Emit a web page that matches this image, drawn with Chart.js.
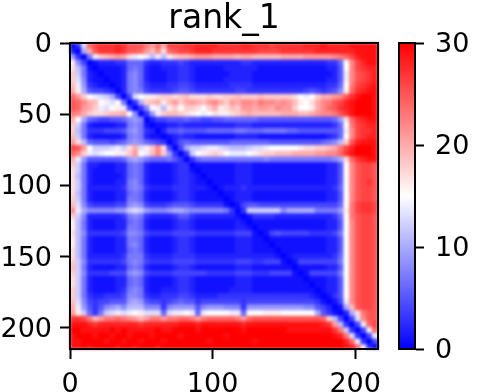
<!DOCTYPE html>
<html>
<head>
<meta charset="utf-8" />
<title>rank_1</title>
<script src="https://cdn.jsdelivr.net/npm/chart.js"></script>
<style>
  html, body { margin: 0; padding: 0; background: #fff; }
  canvas { position: absolute; top: 0; }
  #map { filter: blur(1.4px); }
</style>
</head>
<body>
<canvas id="map" width="392" height="392" style="left:0"></canvas>
<canvas id="axes" width="392" height="392" style="left:0"></canvas>
<canvas id="bar" width="92" height="392" style="left:392px"></canvas>
<script>
const titleText = "rank_1";
const cellStep = 4;
const xTicks = [0, 100, 200];
const yTicks = [0, 50, 100, 150, 200];
const barTicks = [0, 10, 20, 30];
const barRange = [0, 30];

// error values, one row per 4 residues
const rows = [
[0,3,13,24,26,27,27,27,28,27,25,25,25,23,21,24,20,26,26,26,27,27,28,28,28,28,27,27,27,27,28,28,27,27,27,26,27,27,27,27,27,28,28,28,29,28,28,28,28,29,29,29,29,29],
[2,0,10,20,25,27,27,27,28,27,25,25,24,21,19,22,17,24,25,26,26,27,28,28,28,27,27,27,27,27,27,27,27,26,26,26,26,27,27,27,27,27,27,28,28,28,28,28,28,28,29,29,29,29],
[9,3,0,7,14,18,19,20,21,20,17,14,15,14,11,14,11,16,18,19,19,20,21,21,21,20,20,20,20,19,20,20,19,19,19,19,19,20,20,20,20,21,21,21,21,21,22,23,24,26,28,29,29,29],
[16,8,4,0,1,2,2,2,3,3,6,6,6,3,2,2,3,3,3,4,3,2,2,2,2,2,2,2,2,2,3,3,2,2,2,2,2,2,2,2,2,2,2,2,2,3,3,6,15,22,26,28,29,29],
[17,11,7,1,0,1,1,1,1,2,6,7,6,2,1,1,2,2,2,3,3,2,1,1,1,1,1,2,2,2,2,2,2,1,1,1,1,1,1,1,1,1,1,1,1,2,2,5,15,22,26,27,28,28],
[18,12,7,2,1,0,1,1,1,2,7,8,6,2,1,1,1,2,2,3,3,2,1,1,1,1,1,1,2,2,2,2,1,1,1,1,1,1,1,1,1,1,1,1,1,1,2,5,14,22,25,26,27,28],
[18,13,8,2,1,1,0,1,1,2,7,8,6,2,1,1,1,2,2,3,3,2,1,1,1,1,1,2,2,2,2,2,1,1,1,1,1,1,1,1,1,1,1,1,1,2,2,5,14,22,25,26,27,28],
[19,14,9,3,2,1,1,0,1,2,7,8,6,3,2,2,2,3,3,4,4,3,2,2,2,2,2,2,3,3,3,3,2,2,2,2,2,2,2,2,2,2,2,2,2,3,3,6,15,23,26,27,28,29],
[20,16,10,5,4,4,3,2,0,2,7,8,7,4,3,3,3,3,4,5,5,4,3,3,3,3,3,3,3,4,4,3,3,3,3,3,3,3,3,3,3,4,5,4,3,4,5,8,16,24,27,28,29,29],
[24,21,18,15,14,13,12,10,4,0,4,13,15,16,16,17,18,18,17,18,19,17,17,17,18,17,17,18,18,19,18,18,18,19,18,18,18,18,18,17,15,14,15,18,20,20,21,22,25,27,29,30,30,29],
[25,24,22,20,19,15,16,13,15,7,0,3,10,18,19,20,16,19,21,18,20,21,20,19,21,22,20,18,21,20,22,22,21,23,22,22,21,22,21,19,16,15,17,20,22,23,25,26,28,29,30,30,30,29],
[25,24,21,20,18,14,13,15,16,14,4,0,3,8,15,14,11,16,18,15,18,18,17,15,18,20,16,17,19,18,21,21,20,21,21,20,22,21,21,18,15,15,16,20,22,24,25,27,28,29,30,30,30,29],
[23,22,20,18,17,17,18,19,19,20,15,8,0,3,9,16,18,19,19,18,17,16,15,14,15,17,16,16,17,18,19,20,19,19,19,19,19,20,20,20,19,19,20,21,22,22,23,25,27,29,30,30,30,29],
[20,15,10,6,5,4,4,5,5,6,8,9,8,0,2,4,4,5,5,5,6,5,5,4,4,5,5,6,6,6,6,6,6,5,5,5,5,5,5,5,5,5,5,5,5,5,6,9,17,24,27,28,29,29],
[18,12,7,2,1,1,1,1,2,2,7,8,7,1,0,1,1,2,2,3,2,2,2,2,2,2,2,2,2,3,3,3,2,2,2,2,2,2,2,2,2,2,2,2,2,2,3,6,15,23,26,27,28,28],
[18,11,7,3,3,3,4,4,4,5,8,9,7,3,2,0,2,5,5,6,5,5,5,5,6,6,6,6,6,7,7,6,6,6,7,7,7,7,6,6,5,5,5,5,5,5,5,6,14,22,26,27,27,28],
[19,12,7,2,1,1,1,1,1,2,7,8,7,2,1,1,0,1,2,3,2,2,1,1,1,1,1,1,1,2,2,2,2,1,1,1,1,1,1,1,1,1,1,1,1,2,3,6,15,22,26,27,28,28],
[21,17,11,6,5,5,5,4,5,6,8,9,8,6,5,4,3,0,2,5,6,5,5,5,5,5,5,5,6,6,6,6,6,6,6,5,5,5,5,5,5,5,5,5,6,7,8,11,18,25,28,29,29,29],
[26,25,21,15,12,12,12,13,14,12,17,20,13,16,18,22,17,4,0,4,10,12,12,13,14,14,13,12,11,11,11,12,13,13,14,15,15,15,15,15,16,17,17,18,18,19,20,23,26,28,30,30,30,29],
[24,22,18,14,13,14,15,15,16,16,18,21,15,14,19,22,18,9,3,0,3,12,15,16,17,18,17,15,14,14,14,15,16,17,18,18,19,19,19,20,20,20,20,21,21,22,22,24,27,29,30,30,30,29],
[20,14,9,5,5,5,5,5,5,6,9,10,9,7,6,6,6,7,5,3,0,3,6,7,7,7,7,7,7,7,7,7,7,7,8,7,7,7,7,7,7,7,7,7,7,7,8,10,17,24,27,28,29,29],
[18,12,7,2,2,1,1,1,2,2,6,7,6,2,1,1,1,1,2,3,3,0,1,1,1,1,1,1,1,2,2,2,1,1,1,1,1,1,1,1,1,1,1,1,1,2,2,5,15,22,25,26,26,25],
[17,12,7,2,1,1,1,1,2,2,6,7,6,2,1,1,1,1,2,3,3,1,0,1,1,1,1,1,1,2,2,2,1,1,1,1,1,1,1,1,1,1,1,1,1,2,2,5,15,22,25,26,26,25],
[17,11,7,2,1,1,1,1,1,2,6,7,6,2,1,1,1,1,2,3,3,2,1,0,1,1,1,1,1,2,2,2,1,1,1,1,1,1,1,1,1,1,1,1,1,2,2,5,15,22,25,26,26,25],
[17,12,7,2,1,1,1,1,2,2,7,8,6,2,1,1,1,1,2,3,3,2,1,1,0,1,1,1,1,2,2,2,1,1,1,1,1,1,1,1,1,1,1,1,1,2,2,5,15,22,25,26,27,25],
[17,12,7,2,2,2,2,2,2,3,7,8,7,3,2,2,2,2,3,3,3,2,2,2,1,0,1,2,2,2,3,2,2,2,2,2,2,2,2,2,2,2,2,2,2,2,3,6,15,22,25,26,26,25],
[17,11,7,2,1,1,1,1,2,2,6,7,6,2,1,1,1,1,2,3,3,2,1,1,1,1,0,1,1,2,2,2,1,1,1,1,1,1,1,1,1,1,1,1,1,2,2,5,15,22,25,26,26,25],
[18,12,7,2,1,1,1,1,2,2,7,7,6,2,1,1,1,1,2,3,3,2,1,1,1,1,1,0,1,2,2,2,1,1,1,1,1,1,1,1,1,1,1,1,1,2,2,5,15,22,25,26,26,25],
[19,13,8,4,3,3,3,3,4,4,8,9,8,4,3,3,3,4,5,5,5,4,3,3,3,3,3,1,0,1,4,5,5,4,4,4,4,4,4,4,4,4,4,4,4,4,4,6,15,23,26,27,27,26],
[22,14,10,8,8,8,8,8,9,9,12,13,12,9,8,8,8,9,10,10,9,8,8,8,8,8,8,7,3,0,3,12,12,12,12,12,12,8,10,10,10,10,10,7,7,7,7,9,16,23,26,27,27,26],
[18,12,8,2,2,2,2,2,2,3,7,8,7,3,2,2,2,2,3,5,5,3,2,2,2,2,2,2,2,1,0,1,3,3,3,3,2,2,2,2,2,2,2,2,2,2,3,6,15,23,25,26,26,25],
[16,11,7,2,1,1,1,1,2,2,6,7,6,2,1,1,1,1,2,3,3,2,1,1,1,1,1,1,1,2,1,0,1,1,1,1,1,1,1,1,1,1,1,1,1,2,2,5,15,22,25,26,26,25],
[16,11,7,2,1,1,1,1,2,2,7,7,6,2,1,1,1,1,2,3,3,2,1,1,1,1,1,1,1,2,2,1,0,1,1,1,1,1,1,1,1,1,1,1,1,2,2,5,15,22,25,26,26,25],
[17,11,8,3,3,3,3,3,3,4,8,8,7,4,3,3,3,3,4,4,4,4,3,3,3,3,3,3,3,4,4,4,1,0,1,4,5,4,4,4,4,4,3,3,3,3,4,7,15,22,25,26,26,25],
[16,11,7,2,1,1,1,1,2,2,7,7,6,2,1,1,1,1,2,3,3,2,1,1,1,1,1,1,1,2,2,2,1,1,0,1,1,1,1,1,1,1,1,1,1,2,2,5,15,22,25,26,26,25],
[16,11,7,2,1,1,1,1,2,2,7,8,6,2,1,1,1,1,2,3,3,2,1,1,1,1,1,1,1,2,2,2,1,1,1,0,1,1,1,1,1,1,1,1,1,2,2,5,15,22,25,26,26,25],
[17,11,7,2,1,1,1,1,2,2,6,7,6,2,1,1,1,1,2,3,3,2,1,1,1,1,1,1,1,2,2,2,1,1,1,1,0,1,1,1,1,1,1,1,1,2,2,5,15,22,25,26,26,25],
[17,11,7,2,2,2,2,2,2,3,7,7,7,3,2,2,2,2,3,3,3,3,2,2,2,2,2,2,2,2,2,2,2,2,2,2,1,0,1,2,2,2,2,2,2,2,3,6,15,22,25,26,26,25],
[18,12,8,3,3,3,3,3,3,4,7,8,7,4,3,3,3,3,4,4,4,4,3,3,3,3,3,3,3,4,4,4,3,3,4,4,4,1,0,1,4,4,4,4,4,4,4,7,15,22,25,26,26,25],
[19,12,7,2,1,1,1,1,2,2,6,7,6,2,1,1,1,1,2,3,3,2,1,1,1,1,1,1,1,2,2,2,1,1,1,1,1,1,1,0,1,1,1,1,1,2,2,5,15,22,25,26,26,25],
[18,12,8,3,3,3,3,4,4,4,8,9,8,4,3,3,3,3,4,4,4,4,4,4,3,3,3,3,3,4,4,4,3,3,3,4,4,4,4,1,0,1,4,4,4,4,4,7,15,22,25,26,26,25],
[17,12,7,2,1,1,1,1,2,2,6,7,6,2,1,1,1,1,2,3,3,2,1,1,1,1,1,1,1,2,2,2,1,1,1,1,1,1,1,1,1,0,1,1,1,2,2,5,15,22,25,26,26,25],
[17,12,7,2,1,1,1,1,2,2,6,7,6,2,1,1,1,1,2,3,3,2,1,1,1,1,1,1,1,2,2,2,1,1,1,1,1,1,1,1,1,1,0,1,1,2,2,5,15,22,25,26,26,25],
[18,12,7,2,1,1,1,1,2,3,7,8,7,2,1,1,2,2,2,3,3,2,1,1,1,1,1,1,2,2,2,2,1,1,1,1,1,1,1,1,1,1,1,0,1,2,2,5,15,22,25,26,26,25],
[18,12,7,3,2,2,3,3,3,4,8,8,7,3,2,2,3,3,3,4,4,3,2,2,2,2,3,3,3,3,3,3,3,3,3,3,3,3,3,3,3,3,2,1,0,1,3,5,15,22,25,26,26,25],
[19,13,8,4,3,4,4,5,5,5,9,10,9,5,4,4,3,4,5,6,5,5,3,4,4,4,4,4,4,4,3,4,4,4,4,4,4,4,4,4,4,4,4,3,1,0,1,4,14,22,25,26,26,25],
[20,14,9,5,3,5,8,9,10,8,11,11,11,8,8,8,3,8,9,9,9,9,5,8,9,9,9,8,8,8,3,9,9,9,9,9,9,9,9,9,9,8,8,5,4,2,0,1,10,19,25,26,26,25],
[21,16,12,6,3,7,12,13,14,13,14,15,16,13,13,13,6,13,14,14,15,14,6,14,15,15,15,15,14,14,6,15,15,15,16,16,16,15,15,15,15,15,15,10,5,3,1,0,2,10,17,23,25,25],
[27,27,26,23,19,21,23,23,24,23,22,21,19,21,23,23,21,23,23,24,24,23,21,23,24,24,24,24,24,23,21,24,25,25,25,25,25,25,25,25,25,25,25,25,24,18,11,4,0,4,13,22,25,25],
[29,29,29,28,27,28,28,28,28,28,28,28,27,28,28,28,28,28,28,29,29,29,28,29,29,29,29,29,29,29,28,29,29,29,29,29,29,29,29,29,29,29,29,29,28,27,21,11,3,0,4,14,24,26],
[30,30,29,29,29,29,29,30,29,30,29,29,29,29,29,30,29,29,30,30,30,30,29,30,30,30,30,30,30,30,29,30,30,30,30,30,30,30,29,29,29,29,29,29,29,29,27,23,12,3,0,4,14,24],
[29,30,30,30,29,30,30,29,30,30,29,30,30,30,29,30,30,30,30,29,30,30,30,30,30,30,30,29,30,30,30,30,30,30,30,30,30,30,30,30,30,30,30,30,30,30,29,28,23,13,3,0,4,14],
[29,29,30,30,30,30,29,30,30,29,30,30,29,30,30,30,29,30,30,30,30,30,30,30,29,30,30,30,30,30,30,30,29,30,30,30,30,30,30,30,30,30,30,30,30,30,30,30,28,24,14,3,0,4],
[29,29,30,29,30,30,30,30,29,30,30,29,30,30,30,29,30,30,30,30,30,30,30,30,30,30,30,30,30,30,30,30,30,30,30,30,30,30,30,30,30,30,30,30,30,30,30,30,29,28,24,14,3,0]
];

function bwr(v) {
  const t = Math.max(0, Math.min(1, v / 30));
  if (t < 0.5) {
    const c = Math.round(510 * t);
    return `rgb(${c},${c},255)`;
  }
  const c = Math.round(510 * (1 - t));
  return `rgb(255,${c},${c})`;
}

const cells = [];
rows.forEach((row, r) => {
  row.forEach((v, c) => {
    cells.push({ x: c * cellStep + cellStep / 2, y: r * cellStep + cellStep / 2, v: v });
  });
});

Chart.defaults.font.family = "'DejaVu Sans'";
Chart.defaults.color = "#000";
Chart.defaults.animation = false;

const frame = {
  id: "frame",
  afterDraw(chart) {
    const a = chart.chartArea, ctx = chart.ctx;
    ctx.save();
    ctx.strokeStyle = "#000";
    ctx.lineWidth = 2;
    ctx.strokeRect(a.left, a.top, a.right - a.left, a.bottom - a.top);
    ctx.restore();
  }
};

// the cells sit on their own canvas so they can be softened like the original image
new Chart(document.getElementById("map"), {
  type: "scatter",
  data: {
    datasets: [{
      data: cells,
      clip: 0,
      pointStyle: "rect",
      pointBorderWidth: 0,
      pointBackgroundColor: ctx => bwr(ctx.raw.v),
      pointRadius: ctx => {
        const s = ctx.chart.scales.x;
        return (s.getPixelForValue(cellStep) - s.getPixelForValue(0) + 0.8) / Math.SQRT2;
      }
    }]
  },
  options: {
    responsive: false,
    layout: { padding: { left: 70, right: 14, top: 43, bottom: 43 } },
    plugins: { legend: { display: false }, tooltip: { enabled: false } },
    scales: {
      x: { type: "linear", display: false, min: 0, max: 216 },
      y: { type: "linear", display: false, reverse: true, min: 0, max: 215 }
    }
  }
});

new Chart(document.getElementById("axes"), {
  type: "scatter",
  data: { datasets: [{ data: [] }] },
  options: {
    responsive: false,
    layout: { padding: { left: 0, right: 14, top: 0, bottom: 0 } },
    plugins: {
      legend: { display: false },
      tooltip: { enabled: false },
      title: {
        display: true,
        text: titleText,
        fullSize: false,
        font: { size: 33, weight: "normal" },
        padding: { top: 0, bottom: 3.4 }
      }
    },
    scales: {
      x: {
        type: "linear",
        min: 0,
        max: 216,
        afterFit: s => { s.height = 43; },
        afterBuildTicks: s => { s.ticks = xTicks.map(v => ({ value: v })); },
        grid: { drawOnChartArea: false, tickColor: "#000", tickWidth: 2, tickLength: 10 },
        border: { color: "#000", width: 2 },
        ticks: { font: { size: 27 }, maxRotation: 0, autoSkip: false, padding: 10 }
      },
      y: {
        type: "linear",
        reverse: true,
        min: 0,
        max: 215,
        afterFit: s => { s.width = 70; },
        afterBuildTicks: s => { s.ticks = yTicks.map(v => ({ value: v })); },
        grid: { drawOnChartArea: false, tickColor: "#000", tickWidth: 2, tickLength: 10 },
        border: { color: "#000", width: 2 },
        ticks: { font: { size: 27 }, maxRotation: 0, autoSkip: false, padding: 8, labelOffset: 2 }
      }
    }
  },
  plugins: [frame]
});

new Chart(document.getElementById("bar"), {
  type: "bar",
  data: {
    labels: [""],
    datasets: [{
      data: [barRange],
      barPercentage: 1,
      categoryPercentage: 1,
      backgroundColor: ctx => {
        const a = ctx.chart.chartArea;
        if (!a) return "#fff";
        const g = ctx.chart.ctx.createLinearGradient(0, a.bottom, 0, a.top);
        g.addColorStop(0, "rgb(0,0,255)");
        g.addColorStop(0.5, "rgb(255,255,255)");
        g.addColorStop(1, "rgb(255,0,0)");
        return g;
      }
    }]
  },
  options: {
    responsive: false,
    layout: { padding: { left: 7, right: 0, top: 43, bottom: 43 } },
    plugins: { legend: { display: false }, tooltip: { enabled: false } },
    scales: {
      x: { display: false },
      y: {
        position: "right",
        min: barRange[0],
        max: barRange[1],
        afterFit: s => { s.width = 69; },
        afterBuildTicks: s => { s.ticks = barTicks.map(v => ({ value: v })); },
        grid: { drawOnChartArea: false, tickColor: "#000", tickWidth: 2, tickLength: 9 },
        border: { color: "#000", width: 2 },
        ticks: { font: { size: 27 }, maxRotation: 0, autoSkip: false, padding: 11, labelOffset: 2 }
      }
    }
  },
  plugins: [frame]
});
</script>
</body>
</html>
